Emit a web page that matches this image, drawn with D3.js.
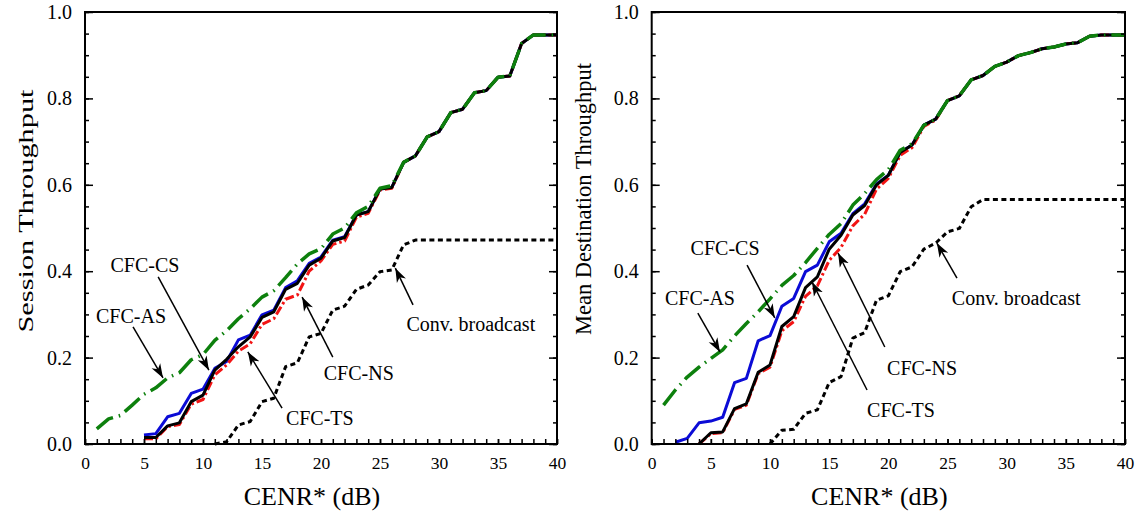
<!DOCTYPE html>
<html><head><meta charset="utf-8">
<script src="https://cdn.jsdelivr.net/npm/d3@7"></script>
<style>
html,body{margin:0;padding:0;background:#fff;}
text{font-family:"Liberation Serif","Times New Roman",serif;fill:#000;}
</style></head>
<body><svg id="c" width="1143" height="517"></svg>
<script>
// ---------- data ----------
const cenr = [0,1,2,3,4,5,6,7,8,9,10,11,12,13,14,15,16,17,18,19,20,21,22,23,24,25,26,27,28,29,30,31,32,33,34,35,36,37,38,39,40];
const xTicks = [0,5,10,15,20,25,30,35,40];
const yTicks = [0.0,0.2,0.4,0.6,0.8,1.0];
const yTickLabels = ["0.0","0.2","0.4","0.6","0.8","1.0"];
const N = null;

// Left panel: Session Throughput
const sessTS = [N,N,N,N,N,0.015,0.015,0.042,0.049,0.098,0.113,0.171,0.196,0.225,0.248,0.293,0.306,0.358,0.372,0.414,0.430,0.470,0.478,0.530,0.538,0.590,0.594,0.652,0.667,0.711,0.723,0.767,0.775,0.813,0.818,0.849,0.852,0.927,0.947,0.947,0.947];
const sessCS = [N,N,N,N,N,0.021,0.024,0.063,0.071,0.117,0.127,0.175,0.191,0.241,0.252,0.299,0.310,0.362,0.378,0.418,0.433,0.472,0.480,0.530,0.538,0.590,0.594,0.652,0.667,0.711,0.723,0.767,0.775,0.813,0.818,0.849,0.852,0.927,0.947,0.947,0.947];
const sessNS = [N,N,N,N,N,0.012,0.012,0.040,0.045,0.092,0.103,0.160,0.183,0.215,0.232,0.277,0.290,0.335,0.345,0.400,0.424,0.462,0.470,0.525,0.534,0.588,0.592,0.652,0.667,0.711,0.723,0.767,0.775,0.813,0.818,0.849,0.852,0.927,0.947,0.947,0.947];
const sessAS = [N,0.035,0.058,0.066,0.090,0.115,0.130,0.153,0.165,0.195,0.207,0.240,0.262,0.290,0.313,0.340,0.355,0.385,0.417,0.440,0.452,0.486,0.500,0.535,0.550,0.592,0.598,0.652,0.667,0.711,0.723,0.767,0.775,0.813,0.818,0.849,0.852,0.927,0.947,0.947,0.947];
const sessConv = [N,N,N,N,N,N,N,N,N,N,N,0.000,0.005,0.044,0.052,0.098,0.106,0.179,0.188,0.248,0.256,0.310,0.319,0.358,0.368,0.399,0.403,0.461,0.472,0.472,0.472,0.472,0.472,0.472,0.472,0.472,0.472,0.472,0.472,0.472,0.472];

// Right panel: Mean Destination Throughput
const destTS = [N,N,N,N,0.000,0.026,0.028,0.082,0.093,0.166,0.183,0.272,0.295,0.362,0.387,0.451,0.483,0.530,0.552,0.600,0.622,0.675,0.692,0.738,0.752,0.795,0.806,0.843,0.853,0.874,0.884,0.899,0.906,0.915,0.919,0.926,0.929,0.944,0.947,0.947,0.947];
const destCS = [N,N,0.004,0.013,0.049,0.053,0.062,0.142,0.152,0.239,0.251,0.319,0.337,0.399,0.414,0.468,0.488,0.533,0.556,0.602,0.622,0.675,0.692,0.738,0.752,0.795,0.806,0.843,0.853,0.874,0.884,0.899,0.906,0.915,0.919,0.926,0.929,0.944,0.947,0.947,0.947];
const destNS = [N,N,N,N,0.000,0.024,0.026,0.080,0.090,0.163,0.178,0.262,0.283,0.342,0.366,0.425,0.455,0.505,0.532,0.590,0.615,0.668,0.686,0.735,0.750,0.795,0.806,0.843,0.853,0.874,0.884,0.899,0.906,0.915,0.919,0.926,0.929,0.944,0.947,0.947,0.947];
const destAS = [N,0.090,0.125,0.155,0.178,0.198,0.218,0.250,0.279,0.306,0.336,0.367,0.390,0.420,0.453,0.485,0.510,0.553,0.580,0.612,0.635,0.680,0.695,0.738,0.752,0.795,0.806,0.843,0.853,0.874,0.884,0.899,0.906,0.915,0.919,0.926,0.929,0.944,0.947,0.947,0.947];
const destConv = [N,N,N,N,N,N,N,N,N,N,0.000,0.032,0.034,0.071,0.079,0.142,0.156,0.245,0.258,0.333,0.343,0.399,0.410,0.451,0.465,0.491,0.499,0.549,0.566,0.566,0.566,0.566,0.566,0.566,0.566,0.566,0.566,0.566,0.566,0.566,0.566];

// annotations (data coordinates): label position, arrow tail, arrow head
const sessNotes = [
  {t:"CFC-CS", lx:5.08, ly:0.398, x1:6.2, y1:0.387, x2:10.5, y2:0.171},
  {t:"CFC-AS", lx:3.9, ly:0.280, x1:4.07, y1:0.271, x2:6.61, y2:0.153},
  {t:"CFC-TS", lx:19.9, ly:0.044, x1:16.7, y1:0.083, x2:13.8, y2:0.213},
  {t:"CFC-NS", lx:23.2, ly:0.148, x1:21.0, y1:0.201, x2:18.4, y2:0.340},
  {t:"Conv. broadcast", lx:32.7, ly:0.262, x1:27.8, y1:0.322, x2:26.3, y2:0.407}
];
const destNotes = [
  {t:"CFC-CS", lx:6.2, ly:0.4375, x1:8.06, y1:0.414, x2:10.4, y2:0.292},
  {t:"CFC-AS", lx:4.08, ly:0.322, x1:3.9, y1:0.303, x2:5.77, y2:0.213},
  {t:"CFC-NS", lx:22.85, ly:0.160, x1:19.7, y1:0.2245, x2:15.75, y2:0.442},
  {t:"CFC-TS", lx:21.07, ly:0.0625, x1:18.2, y1:0.125, x2:13.55, y2:0.375},
  {t:"Conv. broadcast", lx:30.8, ly:0.322, x1:25.8, y1:0.384, x2:24.1, y2:0.465}
];

// ---------- drawing ----------
const svg = d3.select("#c");
const defs = svg.append("defs");
defs.append("marker").attr("id","arr").attr("viewBox","-14 -6 16 12")
  .attr("refX",0).attr("refY",0).attr("markerWidth",16).attr("markerHeight",12)
  .attr("markerUnits","userSpaceOnUse").attr("orient","auto")
  .append("path").attr("d","M0,0 L-14,-5 L-10,0 L-14,5 Z").attr("fill","#000");

const styles = {
  CS:{color:"#0b0bd6", w:3, dash:null},
  NS:{color:"#f21414", w:3, dash:"9,3,2.5,3"},
  TS:{color:"#000", w:3, dash:null},
  AS:{color:"#0d800d", w:3.5, dash:"20,6,1.5,6"},
  Conv:{color:"#000", w:3, dash:"5,3.5"}
};

function panel(cfg){
  const x = d3.scaleLinear().domain([0,40]).range([cfg.x0,cfg.x1]);
  const y = d3.scaleLinear().domain([0,1]).range([444,12]);
  const g = svg.append("g");

  const line = d3.line().defined(d=>d[1]!==null).x(d=>x(d[0])).y(d=>y(d[1]));
  const order = [["CS",cfg.CS],["NS",cfg.NS],["TS",cfg.TS],["AS",cfg.AS],["Conv",cfg.Conv]];
  order.forEach(([k,vals])=>{
    const s = styles[k];
    const pts = cenr.map((c,i)=>[c,vals[i]]);
    g.append("path").attr("d",line(pts)).attr("fill","none")
      .attr("stroke",s.color).attr("stroke-width",s.w)
      .attr("stroke-dasharray",s.dash).attr("stroke-linejoin","round");
  });

  const minorY = d3.range(0,1.0001,0.05);
  const minorX = cenr;
  g.append("g").attr("transform",`translate(${cfg.x0},0)`)
    .call(d3.axisLeft(y).tickValues(minorY).tickSize(-4).tickFormat(""))
    .call(a=>a.select(".domain").remove());
  g.append("g").attr("transform",`translate(${cfg.x0},0)`)
    .call(d3.axisLeft(y).tickValues(yTicks).tickSize(-8).tickPadding(13).tickFormat((d,i)=>yTickLabels[i]))
    .call(a=>a.select(".domain").remove())
    .call(a=>a.selectAll("text").attr("font-size",20).style("font-family","Liberation Serif"));
  g.append("g").attr("transform",`translate(${cfg.x1},0)`)
    .call(d3.axisRight(y).tickValues(minorY).tickSize(-4).tickFormat(""))
    .call(a=>a.select(".domain").remove());
  g.append("g").attr("transform",`translate(${cfg.x1},0)`)
    .call(d3.axisRight(y).tickValues(yTicks).tickSize(-8).tickFormat(""))
    .call(a=>a.select(".domain").remove());
  g.append("g").attr("transform","translate(0,444)")
    .call(d3.axisBottom(x).tickValues(minorX).tickSize(-5).tickFormat(""))
    .call(a=>a.select(".domain").remove());
  g.append("g").attr("transform","translate(0,444)")
    .call(d3.axisBottom(x).tickValues(xTicks).tickSize(-5).tickPadding(13).tickFormat(d3.format("d")))
    .call(a=>a.select(".domain").remove())
    .call(a=>a.selectAll("text").attr("font-size",17.5).style("font-family","Liberation Serif"));
  g.selectAll(".tick line").attr("stroke","#000").attr("stroke-width",1.5);

  g.append("rect").attr("x",cfg.x0).attr("y",12).attr("width",cfg.x1-cfg.x0).attr("height",432)
    .attr("fill","none").attr("stroke","#000").attr("stroke-width",2);

  cfg.notes.forEach(n=>{
    g.append("line").attr("x1",x(n.x1)).attr("y1",y(n.y1)).attr("x2",x(n.x2)).attr("y2",y(n.y2))
      .attr("stroke","#000").attr("stroke-width",1.5).attr("marker-end","url(#arr)");
    g.append("text").attr("x",x(n.lx)).attr("y",y(n.ly)).attr("text-anchor","middle")
      .attr("font-size",20).text(n.t);
  });

  g.append("text").attr("x",(cfg.x0+cfg.x1)/2 - 9).attr("y",505).attr("text-anchor","middle")
    .attr("font-size",26).text("CENR* (dB)");
  const yt = g.append("text").attr("transform",`translate(${cfg.ytx},${cfg.yty}) rotate(-90)`)
    .attr("text-anchor","middle").attr("font-size",cfg.ytfs).text(cfg.ytitle);
  if (cfg.ytlen) yt.attr("textLength",cfg.ytlen).attr("lengthAdjust","spacingAndGlyphs");
}

panel({x0:85, x1:557, TS:sessTS, CS:sessCS, NS:sessNS, AS:sessAS, Conv:sessConv,
  notes:sessNotes, ytitle:"Session Throughput", ytx:33, yty:211, ytfs:20, ytlen:243});
panel({x0:651.7, x1:1125, TS:destTS, CS:destCS, NS:destNS, AS:destAS, Conv:destConv,
  notes:destNotes, ytitle:"Mean Destination Throughput", ytx:591, yty:199, ytfs:22.5, ytlen:null});
</script></body></html>
